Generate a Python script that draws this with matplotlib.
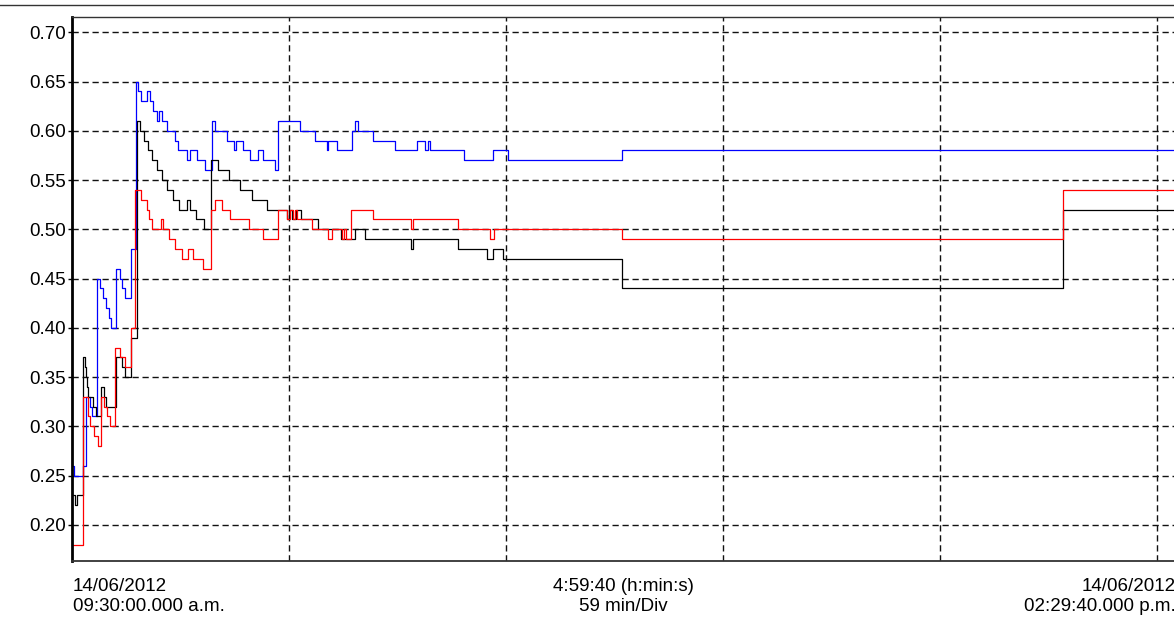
import matplotlib.pyplot as plt
from matplotlib.lines import Line2D

plt.rcParams['font.family'] = ['Liberation Sans', 'DejaVu Sans']

# time axis: minutes after 09:30:00, total span 4:59:40, 59 min per division
T_END = 299.67
DIV = 59

blue_t = [0, 0.54, 2.99, 3.81, 4.9, 5.5, 6.8, 7.61, 8.43, 9.25,
          9.93, 10.6, 11.83, 13.05, 13.6, 14.28, 16.18, 17.27, 18.03, 18.76,
          20.48, 21.21, 21.94, 22.98, 23.74, 24.39, 25.91, 28.01, 28.91, 31.19,
          32.09, 33.91, 36.17, 38.15, 38.88, 42.07, 44.05, 44.6, 46.58, 48.4,
          50.66, 52.02, 55.2, 56.0, 62.0, 66.08, 69.26, 69.7, 71.98, 76.06,
          76.95, 77.86, 81.93, 87.83, 93.73, 95.99, 96.89, 97.35, 106.6, 114.57,
          118.43, 149.64]
blue_v = [0.26, 0.25, 0.26, 0.33, 0.32, 0.31, 0.45, 0.44, 0.43, 0.42,
          0.41, 0.40, 0.46, 0.45, 0.44, 0.43, 0.48, 0.65, 0.64, 0.63,
          0.64, 0.63, 0.62, 0.61, 0.62, 0.61, 0.60, 0.59, 0.58, 0.57,
          0.58, 0.57, 0.56, 0.61, 0.60, 0.59, 0.58, 0.59, 0.58, 0.57,
          0.58, 0.57, 0.56, 0.61, 0.60, 0.59, 0.58, 0.59, 0.58, 0.60,
          0.61, 0.60, 0.59, 0.58, 0.59, 0.58, 0.59, 0.58, 0.57, 0.58,
          0.57, 0.58]

black_t = [0, 0.8, 1.4, 2.99, 3.5, 3.8, 4.1, 4.4, 5.7, 6.5,
           7.9, 8.7, 9.3, 11.96, 13.6, 14.4, 16.0, 17.54, 18.36, 19.58,
           20.67, 21.75, 23.11, 24.47, 25.83, 27.46, 29.10, 31.27, 32.08, 33.72,
           35.89, 37.93, 39.78, 42.69, 45.68, 48.94, 53.02, 58.46, 59.0, 59.69,
           60.91, 62.4, 66.89, 73.15, 76.95, 79.67, 92.2, 92.6, 104.96, 112.85,
           114.57, 117.3, 149.64, 269.56]
black_v = [0.23, 0.22, 0.23, 0.37, 0.36, 0.35, 0.34, 0.33, 0.32, 0.31,
           0.34, 0.33, 0.32, 0.37, 0.36, 0.35, 0.39, 0.61, 0.60, 0.59,
           0.58, 0.57, 0.56, 0.55, 0.54, 0.53, 0.52, 0.53, 0.52, 0.51,
           0.50, 0.57, 0.56, 0.55, 0.54, 0.53, 0.52, 0.51, 0.52, 0.51,
           0.52, 0.51, 0.50, 0.49, 0.50, 0.49, 0.48, 0.49, 0.48, 0.47,
           0.48, 0.47, 0.44, 0.52]

red_t = [0, 2.99, 4.35, 5.0, 6.0, 7.1, 8.0, 8.7, 9.6, 10.4,
         11.7, 13.0, 14.4, 16.0, 17.1, 18.8, 20.4, 21.0, 21.67, 24.12,
         24.83, 26.46, 28.01, 29.99, 31.63, 32.98, 35.62, 37.93, 38.88, 40.71,
         42.96, 48.13, 52.02, 56.15, 58.46, 59.28, 60.0, 60.64, 61.27, 65.34,
         69.61, 70.7, 73.33, 73.95, 74.5, 75.79, 81.93, 92.2, 92.73, 104.88,
         113.66, 114.75, 149.64, 269.56]
red_v = [0.18, 0.33, 0.31, 0.30, 0.29, 0.28, 0.33, 0.32, 0.31, 0.30,
         0.38, 0.37, 0.36, 0.40, 0.54, 0.53, 0.52, 0.51, 0.50, 0.51,
         0.50, 0.49, 0.48, 0.47, 0.48, 0.47, 0.46, 0.52, 0.53, 0.52,
         0.51, 0.50, 0.49, 0.52, 0.51, 0.52, 0.51, 0.52, 0.51, 0.50,
         0.49, 0.50, 0.49, 0.50, 0.49, 0.52, 0.51, 0.50, 0.51, 0.50,
         0.49, 0.50, 0.49, 0.54]

y_ticks = [0.20, 0.25, 0.30, 0.35, 0.40, 0.45, 0.50, 0.55, 0.60, 0.65, 0.70]

W, H = 1174, 617
fig = plt.figure(figsize=(W / 100, H / 100), dpi=100)
ax = fig.add_axes([72 / W, 56 / H, 1102 / W, 544 / H])

for t, v, c in [(blue_t, blue_v, '#0000ff'),
                (black_t, black_v, '#000000'),
                (red_t, red_v, '#ff0000')]:
    ax.step(t + [T_END], v + [v[-1]], where='post', color=c, lw=0.9)

ax.set_xlim(0, T_END)
ax.set_ylim(0.1633, 0.7155)
ax.set_xticks([DIV * k for k in range(1, 6)])
ax.set_xticklabels([])
ax.set_yticks(y_ticks)
ax.set_yticklabels(['%.2f' % y for y in y_ticks])
ax.tick_params(axis='x', length=0)
ax.tick_params(axis='y', length=3, width=1, pad=1.5, labelsize=13.5)
ax.grid(True, color='#111111', lw=1.0, linestyle=(0, (4.5, 2.7)))

ax.spines['right'].set_visible(False)
ax.spines['left'].set_linewidth(2.0)
ax.spines['left'].set_color('black')
ax.spines['bottom'].set_linewidth(1.3)
ax.spines['bottom'].set_color('#333333')
ax.spines['top'].set_linewidth(1.0)
ax.spines['top'].set_color('#333333')

# separator line along the top of the window
fig.add_artist(Line2D([0, 1], [612 / H, 612 / H], color='#333333', lw=1.0))

fs = 13.5
fig.text(73 / W, 26 / H, '14/06/2012', ha='left', va='baseline', fontsize=fs)
fig.text(73 / W, 6 / H, '09:30:00.000 a.m.', ha='left', va='baseline', fontsize=fs)
fig.text(623 / W, 26 / H, '4:59:40 (h:min:s)', ha='center', va='baseline', fontsize=fs)
fig.text(623 / W, 6 / H, '59 min/Div', ha='center', va='baseline', fontsize=fs)
fig.text(1176 / W, 26 / H, '14/06/2012', ha='right', va='baseline', fontsize=fs)
fig.text(1176 / W, 6 / H, '02:29:40.000 p.m.', ha='right', va='baseline', fontsize=fs)

fig.savefig('out.png', dpi=100)
